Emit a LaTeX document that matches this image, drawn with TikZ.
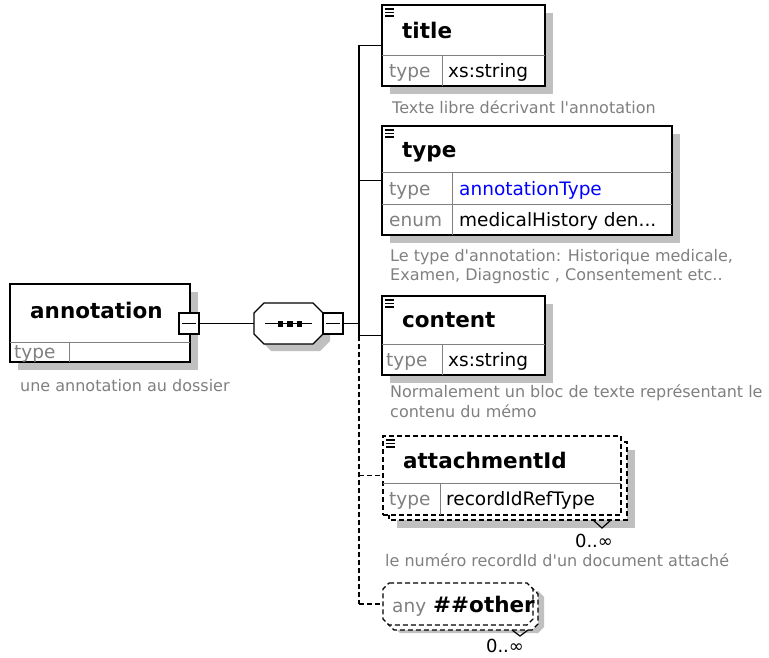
\documentclass[tikz,border=0pt]{standalone}
\usepackage{fontspec}
\setmainfont{DejaVu Sans}
\definecolor{shadowgray}{RGB}{192,192,192}
\definecolor{txtgray}{RGB}{128,128,128}
\definecolor{divgray}{RGB}{128,128,128}
\definecolor{linkblue}{RGB}{0,0,255}
\newcommand\xnamefont{\fontsize{21.5}{25}\selectfont\bfseries}
\newcommand\xcellfont{\fontsize{18.5}{22}\selectfont}
\newcommand\xcapfont{\fontsize{16}{20}\selectfont}
\newcommand\xoccfont{\fontsize{18}{21}\selectfont}
\begin{document}
\begin{tikzpicture}[x=1pt,y=-1pt,
  shadowbox/.style={fill=shadowgray,draw=none},
  elbox/.style={draw=black,line width=1.5pt,fill=white,rectangle,inner sep=0pt,outer sep=0pt},
  optbox/.style={elbox,dash pattern=on 5pt off 3pt},
  divline/.style={draw=divgray,line width=1pt},
  conn/.style={draw=black,line width=1.4pt},
  optconn/.style={conn,dash pattern=on 5pt off 3pt},
  nametext/.style={font=\xnamefont,anchor=base west,inner sep=0pt},
  lbltext/.style={font=\xcellfont,text=txtgray,anchor=base west,inner sep=0pt},
  valtext/.style={font=\xcellfont,text=black,anchor=base west,inner sep=0pt},
  captext/.style={font=\xcapfont,text=txtgray,anchor=base west,inner sep=0pt},
  occtext/.style={font=\xoccfont,text=black,anchor=base,inner sep=0pt},
  togglebox/.style={draw=black,line width=1.4pt,fill=white,rectangle,inner sep=0pt,outer sep=0pt,minimum width=20pt,minimum height=21pt},
  anchorbox/.style={draw=none,rectangle,inner sep=0pt,outer sep=0pt},
  iconline/.style={draw=black,line width=1.3pt},
  notch/.style={draw=black,line width=1.2pt},
]
\fill[white] (0,0) rectangle (769,658);
\useasboundingbox (0,0) rectangle (769,658);

% ---------- annotation ----------
\fill[shadowbox] (18,292) rectangle (198,370);
\node[elbox,minimum width=180pt,minimum height=78pt] (annotation) at (100,323) {};
\draw[divline] (10,342) -- (190,342);
\draw[divline] (69,342) -- (69,362);
\node[nametext] (annotationName) at (30,318) {annotation};
\node[lbltext] (annotationLbl) at (14,358) {type};
\node[togglebox] (annToggle) at (189,323.5) {};
\draw[conn] ([xshift=-7pt]annToggle.center) -- ([xshift=7pt]annToggle.center);
\node[captext] (annotationCap) at (20,391) {une annotation au dossier};

% ---------- sequence compositor ----------
\fill[shadowbox] (271,310) -- (320,310) -- (330,320) -- (330,341) -- (320,351) -- (271,351) -- (261,341) -- (261,320) -- cycle;
\filldraw[fill=white,draw=black,line width=1.4pt] (264,303) -- (313,303) -- (323,313) -- (323,334) -- (313,344) -- (264,344) -- (254,334) -- (254,313) -- cycle;
\node[anchorbox,minimum width=69pt,minimum height=41pt] (seq) at (288.5,323.5) {};
\draw[conn] (265,323.5) -- (312,323.5);
\fill[black] (277.5,321) rectangle (283,326.5);
\fill[black] (287,321) rectangle (292.5,326.5);
\fill[black] (296.5,321) rectangle (302,326.5);
\node[togglebox] (seqToggle) at (333,323.5) {};
\draw[conn] ([xshift=-7pt]seqToggle.center) -- ([xshift=7pt]seqToggle.center);

% ---------- title ----------
\fill[shadowbox] (390,13) rectangle (553,94);
\node[elbox,minimum width=163pt,minimum height=81pt] (title) at (463.5,45.5) {};
\draw[divline] (382,56) -- (545,56);
\draw[divline] (442,56) -- (442,86);
\draw[iconline] (385,9) -- (394,9) (385,12.5) -- (394,12.5) (385,16) -- (394,16);
\node[nametext] (titleName) at (402,39) {title};
\node[lbltext] (titleLbl) at (389,77.5) {type};
\node[valtext] (titleVal) at (448,77.5) {xs:string};
\node[captext] (titleCap) at (392,114) {Texte libre décrivant l\textquotesingle{}annotation};

% ---------- type ----------
\fill[shadowbox] (390,134) rectangle (680,243);
\node[elbox,minimum width=290pt,minimum height=109pt] (type) at (527,180.5) {};
\draw[divline] (382,173) -- (672,173);
\draw[divline] (382,205) -- (672,205);
\draw[divline] (452,173) -- (452,235);
\draw[iconline] (385,130) -- (394,130) (385,133.5) -- (394,133.5) (385,137) -- (394,137);
\node[nametext] (typeName) at (402,158) {type};
\node[lbltext] (typeLbl) at (389,195.5) {type};
\node[valtext,text=linkblue] (typeVal) at (459,195.5) {annotationType};
\node[lbltext] (enumLbl) at (389,226.5) {enum};
\node[valtext] (enumVal) at (459,226.5) {medicalHistory den...};
\node[captext] (typeCapA) at (390,261) {Le type d\textquotesingle{}annotation: Historique medicale,};
\node[captext] (typeCapB) at (390,280) {Examen, Diagnostic , Consentement etc..};

% ---------- content ----------
\fill[shadowbox] (390,304) rectangle (553,383);
\node[elbox,minimum width=163pt,minimum height=79pt] (content) at (463.5,335.5) {};
\draw[divline] (382,344) -- (545,344);
\draw[divline] (442,344) -- (442,375);
\draw[iconline] (385,300) -- (394,300) (385,303.5) -- (394,303.5) (385,307) -- (394,307);
\node[nametext] (contentName) at (402,327) {content};
\node[lbltext] (contentLbl) at (386,366) {type};
\node[valtext] (contentVal) at (448,366) {xs:string};
\node[captext] (contentCapA) at (390,397) {Normalement un bloc de texte représentant le};
\node[captext] (contentCapB) at (390,417) {contenu du mémo};

% ---------- attachmentId ----------
\fill[shadowbox] (397,450) rectangle (635,528);
\draw[optbox] (389,442) rectangle (627,520);
\node[optbox,minimum width=238pt,minimum height=79pt] (att) at (502,475.5) {};
\draw[divline] (383,483) -- (621,483);
\draw[divline] (440,483) -- (440,515);
\draw[iconline] (386,440) -- (395,440) (386,443.5) -- (395,443.5) (386,447) -- (395,447);
\draw[notch] (593,520) -- (602,528) -- (611,520);
\node[nametext] (attName) at (403,468) {attachmentId};
\node[lbltext] (attLbl) at (389,505.5) {type};
\node[valtext] (attVal) at (446,505.5) {recordIdRefType};
\node[occtext] (attOcc) at (594,547) {0..∞};
\node[captext] (attCap) at (385,566) {le numéro recordId d\textquotesingle{}un document attaché};

% ---------- any ##other ----------
\fill[shadowbox] (400,591) -- (538,591) -- (544,597) -- (544,627) -- (538,633) -- (400,633) -- (394,627) -- (394,597) -- cycle;
\filldraw[fill=white,draw=black,line width=1.4pt,dash pattern=on 5pt off 3pt] (394,588) -- (532,588) -- (538,594) -- (538,624) -- (532,630) -- (394,630) -- (388,624) -- (388,594) -- cycle;
\filldraw[fill=white,draw=black,line width=1.4pt,dash pattern=on 5pt off 3pt] (389,583) -- (527,583) -- (533,589) -- (533,619) -- (527,625) -- (389,625) -- (383,619) -- (383,589) -- cycle;
\node[anchorbox,minimum width=150pt,minimum height=42pt] (other) at (458,604) {};
\draw[notch] (512,630) -- (520,636) -- (528,630);
\node[lbltext] (otherLbl) at (392,612) {any};
\node[nametext] (otherName) at (433,612) {\#\#other};
\node[occtext] (otherOcc) at (505,652) {0..∞};

% ---------- connectors ----------
\coordinate (busTop) at (359,45.5);
\coordinate (busType) at (359,180.5);
\coordinate (busSeq) at (359,323.5);
\coordinate (busContent) at (359,335.5);
\coordinate (busAtt) at (359,475.5);
\coordinate (busOther) at (359,604);
\draw[conn] (annToggle.east) -- (seq.west);
\draw[conn] (seqToggle.east) -- (busSeq);
\draw[conn] (busTop) -- (busContent);
\draw[optconn] (busContent) -- (busOther);
\draw[conn] (busTop) -- (title.west);
\draw[conn] (busType) -- (type.west);
\draw[conn] (busContent) -- (content.west);
\draw[optconn] (busAtt) -- (att.west);
\draw[optconn] (busOther) -- (other.west);
\end{tikzpicture}
\end{document}
